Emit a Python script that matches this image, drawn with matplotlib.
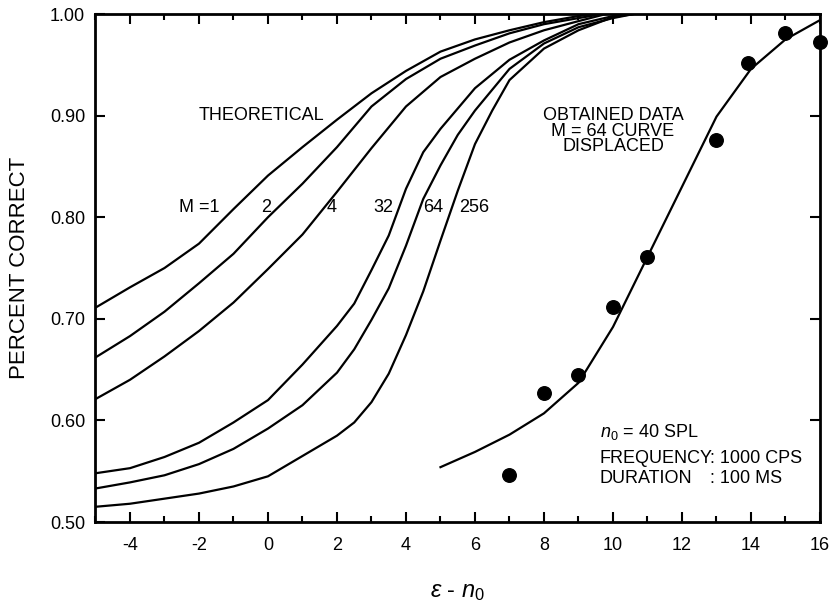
import matplotlib
matplotlib.use("Agg")
import matplotlib.pyplot as plt
import matplotlib.ticker

# Fonts
plt.rcParams["font.family"] = ["Liberation Sans", "DejaVu Sans"]
plt.rcParams["mathtext.fontset"] = "custom"
plt.rcParams["mathtext.rm"] = "Liberation Sans"
plt.rcParams["mathtext.it"] = "Liberation Sans:italic"
plt.rcParams["axes.unicode_minus"] = False

# Theoretical curves, M = 1, 2, 4
eps_m1 = [-5, -4, -3, -2, -1, 0, 1, 2, 3, 4, 5, 6, 7, 8, 9, 9.5]
pc_m1 = [0.711, 0.731, 0.750, 0.774, 0.808, 0.841, 0.869, 0.896,
         0.922, 0.944, 0.963, 0.975, 0.984, 0.992, 0.998, 1.0]

eps_m2 = [-5, -4, -3, -2, -1, 0, 1, 2, 3, 4, 5, 6, 7, 8, 9, 9.7]
pc_m2 = [0.662, 0.683, 0.707, 0.735, 0.764, 0.800, 0.833, 0.869,
         0.909, 0.936, 0.956, 0.969, 0.981, 0.990, 0.996, 1.0]

eps_m4 = [-5, -4, -3, -2, -1, 0, 1, 2, 3, 4, 5, 6, 7, 8, 9, 9.8]
pc_m4 = [0.621, 0.640, 0.663, 0.688, 0.716, 0.749, 0.783, 0.825,
         0.868, 0.909, 0.938, 0.956, 0.972, 0.984, 0.993, 1.0]

# Theoretical curves, M = 32, 64, 256
eps_m32 = [-5, -4, -3, -2, -1, 0, 1, 2, 2.5, 3, 3.5, 4, 4.5, 5, 5.5,
           6, 7, 8, 9, 10, 10.5]
pc_m32 = [0.548, 0.553, 0.564, 0.578, 0.598, 0.620, 0.655, 0.693, 0.715,
          0.748, 0.782, 0.828, 0.864, 0.887, 0.907, 0.927, 0.955, 0.974,
          0.990, 0.998, 1.0]

eps_m64 = [-5, -4, -3, -2, -1, 0, 1, 2, 2.5, 3, 3.5, 4, 4.5, 5, 5.5,
           6, 7, 8, 9, 10, 10.6]
pc_m64 = [0.533, 0.539, 0.546, 0.557, 0.572, 0.592, 0.615, 0.647, 0.670,
          0.699, 0.730, 0.772, 0.818, 0.851, 0.881, 0.905, 0.946, 0.971,
          0.987, 0.996, 1.0]

eps_m256 = [-5, -4, -3, -2, -1, 0, 1, 2, 2.5, 3, 3.5, 4, 4.5, 5, 5.5,
            6, 6.5, 7, 8, 9, 10, 10.6]
pc_m256 = [0.515, 0.518, 0.523, 0.528, 0.535, 0.545, 0.565, 0.585, 0.598,
           0.618, 0.646, 0.684, 0.727, 0.777, 0.826, 0.872, 0.905, 0.935,
           0.966, 0.984, 0.997, 1.0]

# M = 64 curve displaced onto the obtained data
eps_fit = [5, 6, 7, 8, 9, 10, 11, 12, 13, 14, 15, 16]
pc_fit = [0.554, 0.569, 0.586, 0.607, 0.637, 0.692, 0.761, 0.830,
          0.899, 0.946, 0.975, 0.994]

# Obtained data
eps_obs = [7, 8, 9, 10, 11, 13, 13.9, 15, 16]
pc_obs = [0.546, 0.627, 0.645, 0.712, 0.761, 0.876, 0.952, 0.981, 0.972]

# Curve labels
curve_labels = ["M =1", "2", "4", "32", "64", "256"]
curve_label_x = [-2.0, -0.05, 1.85, 3.33, 4.80, 5.99]

# Figure and axes
fig = plt.figure(figsize=(8.34, 6.07), dpi=100)
ax = fig.add_axes([0.1145, 0.140, 0.8687, 0.8369])

# Curves
for xs, ys in [(eps_m1, pc_m1), (eps_m2, pc_m2), (eps_m4, pc_m4),
               (eps_m32, pc_m32), (eps_m64, pc_m64), (eps_m256, pc_m256)]:
    ax.plot(xs, ys, color="k", linewidth=1.6)

ax.plot(eps_fit, pc_fit, color="k", linewidth=1.6)

# Points
ax.scatter(eps_obs, pc_obs, s=95, color="k", zorder=3, clip_on=False)

# Texts
ax.text(-0.2, 0.9006, "THEORETICAL", fontsize=13, ha="center", va="center")
for label, x in zip(curve_labels, curve_label_x):
    ax.text(x, 0.8096, label, fontsize=13, ha="center", va="center")

ax.text(10.0, 0.8848, "OBTAINED DATA\nM = 64 CURVE\nDISPLACED", fontsize=13,
        ha="center", va="center", multialignment="center", linespacing=0.88)

ax.text(9.62, 0.5886, r"$\mathit{n}_\mathit{0}$ = 40 SPL", fontsize=13,
        ha="left", va="center")
ax.text(9.62, 0.563, "FREQUENCY", fontsize=13, ha="left", va="center")
ax.text(12.8, 0.563, ": 1000 CPS", fontsize=13, ha="left", va="center")
ax.text(9.62, 0.543, "DURATION", fontsize=13, ha="left", va="center")
ax.text(12.8, 0.543, ": 100 MS", fontsize=13, ha="left", va="center")

# Axis labels
ax.set_ylabel("PERCENT CORRECT", fontsize=16)
ax.yaxis.set_label_coords(-0.0908, 0.5)
ax.set_xlabel(r"$\mathit{ε}$ - $\mathit{n}_\mathit{0}$", fontsize=17,
              va="baseline")
ax.xaxis.set_label_coords(0.5, -0.1476)

# Limits and ticks
ax.set_xlim(-5, 16)
ax.set_ylim(0.5, 1.0)
ax.xaxis.set_major_locator(matplotlib.ticker.MultipleLocator(2))
ax.xaxis.set_minor_locator(matplotlib.ticker.MultipleLocator(1))
ax.yaxis.set_major_locator(matplotlib.ticker.MultipleLocator(0.1))
ax.yaxis.set_major_formatter(matplotlib.ticker.FormatStrFormatter("%.2f"))

ax.tick_params(which="both", direction="in", top=True, right=True,
               width=1.5, labelsize=13)
ax.tick_params(which="major", length=7)
ax.tick_params(which="minor", length=4)
ax.tick_params(axis="x", pad=11)
ax.tick_params(axis="y", pad=7.5)

for spine in ax.spines.values():
    spine.set_linewidth(2)

fig.savefig("out.png", dpi=100)
